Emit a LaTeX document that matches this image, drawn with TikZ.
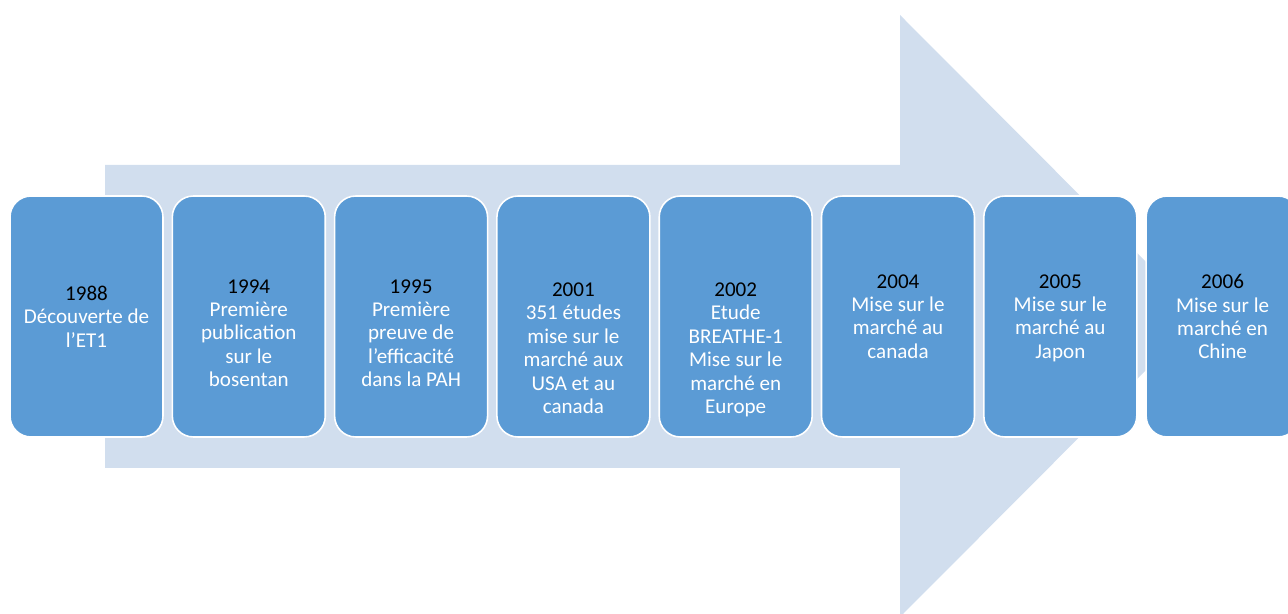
\documentclass[tikz,border=0pt]{standalone}
\usepackage{fontspec}
\setmainfont{Carlito}
\usetikzlibrary{calc}

\definecolor{arrowfill}{RGB}{209,222,238}
\definecolor{boxfill}{RGB}{91,155,213}
\newcommand\yearlabel[1]{\textcolor{black}{#1}}

\tikzset{
  datebox/.style={draw=white, line width=0.9pt, fill=boxfill, rounded corners=0.42cm,
    minimum width=3.06cm, minimum height=4.82cm, inner sep=0pt},
  datetext/.style={anchor=north, inner sep=0pt, align=center, text=white,
    font=\fontsize{12}{13.3}\selectfont}
}

\begin{document}
\begin{tikzpicture}[x=0.02cm,y=-0.02cm]
\useasboundingbox (0,0) rectangle (1288,614);
\clip (0,0) rectangle (1288,614);
\fill[arrowfill] (105,165) -- (900,165) -- (900,15) -- (1200,316) -- (900,617) -- (900,468) -- (105,468) -- cycle;
\node[datebox] (b1988) at (86.5,316.5) {};
\node[datebox] (b1994) at (248.8,316.5) {};
\node[datebox] (b1995) at (411.1,316.5) {};
\node[datebox] (b2001) at (573.4,316.5) {};
\node[datebox] (b2002) at (735.7,316.5) {};
\node[datebox] (b2004) at (898,316.5) {};
\node[datebox] (b2005) at (1060.3,316.5) {};
\node[datebox] (b2006) at (1222.6,316.5) {};
\node[datetext] (t1988) at ($(b1988.north)+(0,90.3)$) {\yearlabel{1988}\\Découverte de\\l’ET1};
\node[datetext] (t1994) at ($(b1994.north)+(0,84)$) {\yearlabel{1994}\\Première\\publication\\sur le\\bosentan};
\node[datetext] (t1995) at ($(b1995.north)+(0,84)$) {\yearlabel{1995}\\Première\\preuve de\\l’efficacité\\dans la PAH};
\node[datetext] (t2001) at ($(b2001.north)+(0,87.3)$) {\yearlabel{2001}\\351 études\\mise sur le\\marché aux\\USA et au\\canada};
\node[datetext] (t2002) at ($(b2002.north)+(0,87.3)$) {\yearlabel{2002}\\Etude\\BREATHE-1\\Mise sur le\\marché en\\Europe};
\node[datetext] (t2004) at ($(b2004.north)+(0,79)$) {\yearlabel{2004}\\Mise sur le\\marché au\\canada};
\node[datetext] (t2005) at ($(b2005.north)+(0,79)$) {\yearlabel{2005}\\Mise sur le\\marché au\\Japon};
\node[datetext] (t2006) at ($(b2006.north)+(0,79)$) {\yearlabel{2006}\\Mise sur le\\marché en\\Chine};
\end{tikzpicture}
\end{document}
